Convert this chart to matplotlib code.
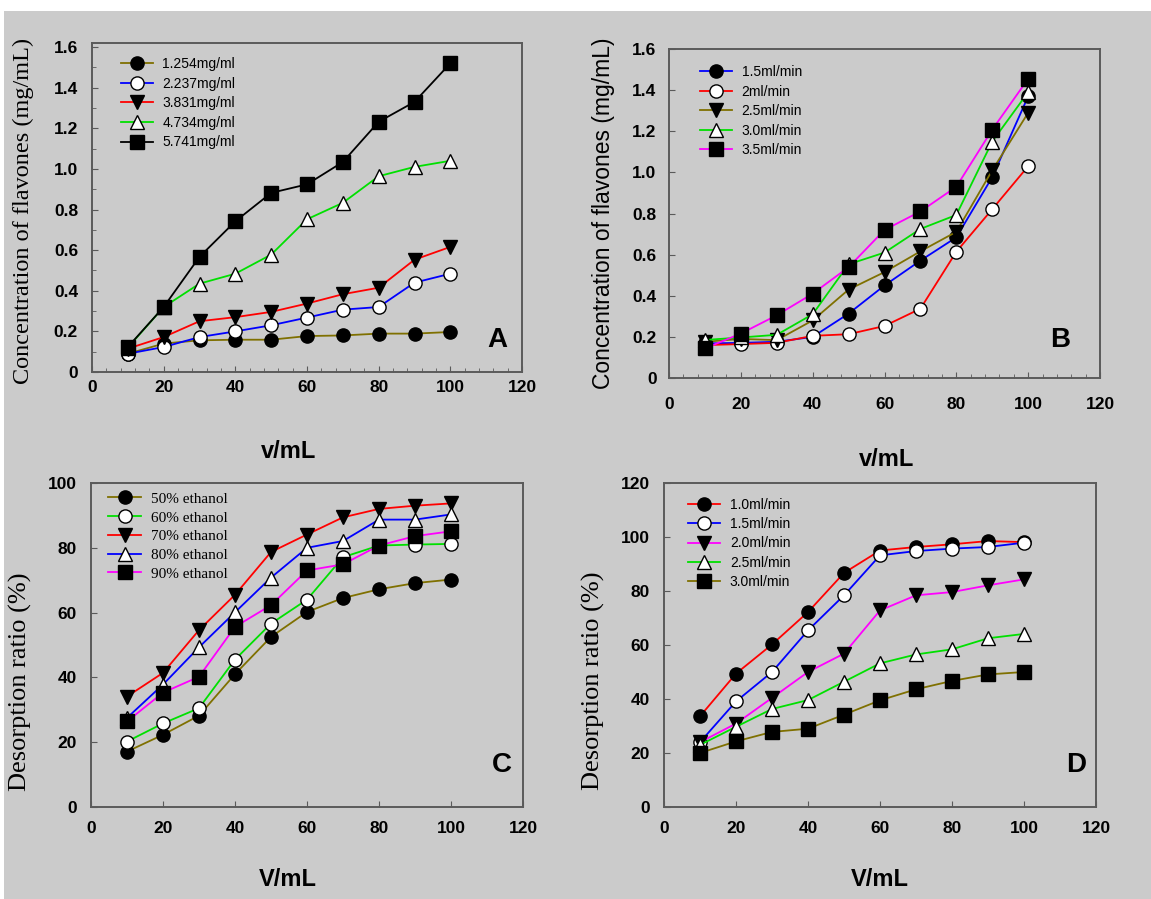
import matplotlib
matplotlib.use('Agg')
import matplotlib.pyplot as plt
from matplotlib.patches import Rectangle
from matplotlib.ticker import MultipleLocator

W, H = 1151, 899

volume = [10, 20, 30, 40, 50, 60, 70, 80, 90, 100]

# panel A: sample concentration
a_labels = ['1.254mg/ml', '2.237mg/ml', '3.831mg/ml', '4.734mg/ml', '5.741mg/ml']
a_1254 = [0.09, 0.14, 0.156, 0.159, 0.159, 0.177, 0.18, 0.189, 0.189, 0.197]
a_2237 = [0.09, 0.123, 0.172, 0.20, 0.23, 0.268, 0.307, 0.32, 0.44, 0.484]
a_3831 = [0.115, 0.172, 0.25, 0.27, 0.296, 0.337, 0.383, 0.415, 0.553, 0.616]
a_4734 = [0.12, 0.32, 0.435, 0.484, 0.578, 0.752, 0.833, 0.964, 1.01, 1.04]
a_5741 = [0.123, 0.32, 0.567, 0.742, 0.882, 0.924, 1.034, 1.232, 1.33, 1.52]

# panel B: loading flow rate
b_labels = ['1.5ml/min', '2ml/min', '2.5ml/min', '3.0ml/min', '3.5ml/min']
b_15 = [0.168, 0.171, 0.176, 0.20, 0.313, 0.45, 0.571, 0.684, 0.977, 1.37]
b_20 = [0.16, 0.165, 0.171, 0.205, 0.213, 0.253, 0.337, 0.614, 0.821, 1.03]
b_25 = [0.176, 0.19, 0.184, 0.28, 0.43, 0.515, 0.616, 0.711, 1.01, 1.29]
b_30 = [0.185, 0.197, 0.21, 0.31, 0.553, 0.61, 0.725, 0.793, 1.15, 1.39]
b_35 = [0.144, 0.216, 0.305, 0.41, 0.539, 0.72, 0.81, 0.93, 1.208, 1.455]

# panel C: ethanol concentration
c_labels = ['50% ethanol', '60% ethanol', '70% ethanol', '80% ethanol', '90% ethanol']
c_50 = [17.1, 22.3, 28.2, 41.0, 52.5, 60.2, 64.5, 67.2, 69.1, 70.2]
c_60 = [20.2, 25.8, 30.5, 45.5, 56.6, 64.0, 77.1, 80.7, 81.0, 81.2]
c_70 = [34.1, 41.4, 54.6, 65.5, 78.7, 84.1, 89.4, 92.0, 93.0, 93.7]
c_80 = [27.5, 37.8, 49.3, 60.1, 70.8, 80.0, 82.1, 88.7, 88.7, 90.3]
c_90 = [26.4, 35.3, 40.2, 55.6, 62.3, 73.0, 74.9, 80.7, 83.6, 85.1]

# panel D: elution flow rate
d_labels = ['1.0ml/min', '1.5ml/min', '2.0ml/min', '2.5ml/min', '3.0ml/min']
d_10 = [33.6, 49.4, 60.2, 72.2, 86.7, 95.0, 96.3, 97.3, 98.5, 98.1]
d_15 = [24.0, 39.1, 50.0, 65.4, 78.4, 93.2, 94.8, 95.7, 96.3, 97.9]
d_20 = [24.0, 30.9, 40.4, 50.0, 56.8, 72.8, 78.4, 79.6, 82.1, 84.3]
d_25 = [23.0, 29.7, 36.3, 39.6, 46.4, 53.2, 56.5, 58.4, 62.5, 64.1]
d_30 = [20.0, 24.3, 27.8, 29.0, 34.2, 39.5, 43.6, 46.7, 49.1, 50.0]

OLIVE = '#7f7000'
BG = '#cbcbcb'

fig = plt.figure(figsize=(W / 100, H / 100), dpi=100)
fig.patch.set_facecolor('white')
fig.patches.append(Rectangle((4 / W, 0), 1 - 4 / W, 1 - 11 / H, transform=fig.transFigure,
                             facecolor=BG, edgecolor='none', zorder=-10))


def add_ax(left, top, right, bottom):
    return fig.add_axes([left / W, 1 - bottom / H, (right - left) / W, (bottom - top) / H])


def style_ax(ax, ylim, ymajor, xpad, ypad, xminor=None, yminor=None):
    ax.set_facecolor('none')
    ax.set_xlim(0, 120)
    ax.set_ylim(*ylim)
    ax.set_xticks([0, 20, 40, 60, 80, 100, 120])
    ax.set_xticklabels(['0', '20', '40', '60', '80', '100', '120'],
                       fontfamily='Liberation Sans', fontweight='bold', fontsize=12.5)
    ax.yaxis.set_major_locator(MultipleLocator(ymajor))
    if xminor:
        ax.xaxis.set_minor_locator(MultipleLocator(xminor))
    if yminor:
        ax.yaxis.set_minor_locator(MultipleLocator(yminor))
    for s in ax.spines.values():
        s.set_color('#5a5a5a')
        s.set_linewidth(1.4)
    ax.tick_params(which='both', direction='in', color='#5a5a5a', top=False, right=False)
    ax.tick_params(which='major', length=4)
    ax.tick_params(which='minor', length=3)
    ax.tick_params(axis='x', pad=xpad)
    ax.tick_params(axis='y', pad=ypad)
    for lab in ax.get_yticklabels():
        lab.set_fontfamily('Liberation Sans')
        lab.set_fontweight('bold')
        lab.set_fontsize(12.5)


def draw(ax, series, colors, markers, fills, labels, ms):
    for y, c, m, f, lab in zip(series, colors, markers, fills, labels):
        ax.plot(volume, y, color=c, lw=1.3, marker=m, ms=ms, mfc=f, mec='black',
                mew=1.0, label=lab)


markers = ['o', 'o', 'v', '^', 's']
fills = ['black', 'white', 'black', 'white', 'black']
conc_ticks = [0, 0.2, 0.4, 0.6, 0.8, 1.0, 1.2, 1.4, 1.6]
conc_ticklabels = ['0', '0.2', '0.4', '0.6', '0.8', '1.0', '1.2', '1.4', '1.6']

# A
ax = add_ax(92, 43, 522, 372)
draw(ax, [a_1254, a_2237, a_3831, a_4734, a_5741],
     [OLIVE, 'blue', 'red', '#00e000', 'black'], markers, fills, a_labels, 9.5)
style_ax(ax, (0, 1.62), 0.2, 6, 10, xminor=4, yminor=0.1)
ax.set_yticks(conc_ticks)
ax.set_yticklabels(conc_ticklabels, fontfamily='Liberation Sans', fontweight='bold', fontsize=12.5)
ax.legend(loc='upper left', bbox_to_anchor=(0.067, 0.957), frameon=False, borderpad=0,
          borderaxespad=0, handlelength=2.3, handletextpad=0.7, labelspacing=0.4,
          prop={'family': 'Liberation Sans', 'size': 10})
ax.set_ylabel('Concentration of flavones (mg/mL)', fontfamily='Liberation Serif', fontsize=17.5)
ax.yaxis.set_label_coords(-0.135, 0.49)
ax.set_xlabel('v/mL', fontfamily='Liberation Sans', fontweight='bold', fontsize=17)
ax.xaxis.set_label_coords(0.458, -0.207)
ax.text(0.942, 0.097, 'A', transform=ax.transAxes, ha='center', va='center',
        fontfamily='Liberation Sans', fontweight='bold', fontsize=20)

# B
ax = add_ax(669, 49, 1100, 378)
draw(ax, [b_15, b_20, b_25, b_30, b_35],
     ['blue', 'red', OLIVE, '#00e000', 'magenta'], markers, fills, b_labels, 9.5)
style_ax(ax, (0, 1.6), 0.2, 14, 9, xminor=4)
ax.set_yticks(conc_ticks)
ax.set_yticklabels(conc_ticklabels, fontfamily='Liberation Sans', fontweight='bold', fontsize=12.5)
ax.legend(loc='upper left', bbox_to_anchor=(0.072, 0.951), frameon=False, borderpad=0,
          borderaxespad=0, handlelength=2.3, handletextpad=0.7, labelspacing=0.4,
          prop={'family': 'Liberation Sans', 'size': 10})
ax.set_ylabel('Concentration of flavones (mg/mL)', fontfamily='Liberation Sans', fontsize=16.5)
ax.yaxis.set_label_coords(-0.125, 0.5)
ax.set_xlabel('v/mL', fontfamily='Liberation Sans', fontweight='bold', fontsize=17)
ax.xaxis.set_label_coords(0.505, -0.213)
ax.text(0.907, 0.115, 'B', transform=ax.transAxes, ha='center', va='center',
        fontfamily='Liberation Sans', fontweight='bold', fontsize=20)

# C
ax = add_ax(91, 483, 523, 807)
draw(ax, [c_50, c_60, c_70, c_80, c_90],
     [OLIVE, '#00e000', 'red', 'blue', 'magenta'], markers, fills, c_labels, 9.5)
style_ax(ax, (0, 100), 20, 10, 10)
ax.legend(loc='upper left', bbox_to_anchor=(0.039, 0.972), frameon=False, borderpad=0,
          borderaxespad=0, handlelength=2.2, handletextpad=0.6, labelspacing=0.33,
          prop={'family': 'Liberation Serif', 'size': 11})
ax.set_ylabel('Desorption ratio (%)', fontfamily='Liberation Serif', fontsize=19)
ax.yaxis.set_label_coords(-0.137, 0.386)
ax.set_xlabel('V/mL', fontfamily='Liberation Sans', fontweight='bold', fontsize=17)
ax.xaxis.set_label_coords(0.456, -0.188)
ax.text(0.951, 0.13, 'C', transform=ax.transAxes, ha='center', va='center',
        fontfamily='Liberation Sans', fontweight='bold', fontsize=20)

# D
ax = add_ax(664, 483, 1096, 807)
draw(ax, [d_10, d_15, d_20, d_25, d_30],
     ['red', 'blue', 'magenta', '#00e000', OLIVE], markers, fills, d_labels, 9.5)
style_ax(ax, (0, 120), 20, 10, 10)
ax.legend(loc='upper left', bbox_to_anchor=(0.056, 0.954), frameon=False, borderpad=0,
          borderaxespad=0, handlelength=2.3, handletextpad=0.7, labelspacing=0.38,
          prop={'family': 'Liberation Sans', 'size': 10})
ax.set_ylabel('Desorption ratio (%)', fontfamily='Liberation Serif', fontsize=19)
ax.yaxis.set_label_coords(-0.137, 0.39)
ax.set_xlabel('V/mL', fontfamily='Liberation Sans', fontweight='bold', fontsize=17)
ax.xaxis.set_label_coords(0.5, -0.188)
ax.text(0.954, 0.13, 'D', transform=ax.transAxes, ha='center', va='center',
        fontfamily='Liberation Sans', fontweight='bold', fontsize=20)

fig.savefig('out.png', dpi=100, facecolor=fig.get_facecolor())
